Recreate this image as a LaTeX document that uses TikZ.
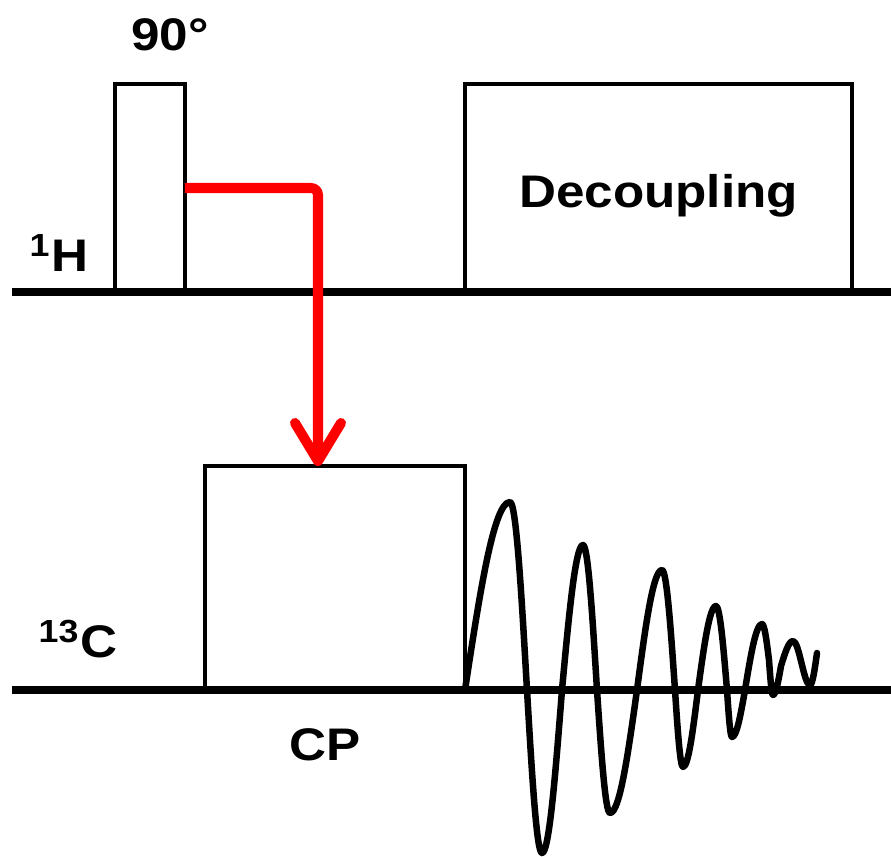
\documentclass[tikz,border=0pt]{standalone}
\usepackage{fontspec}
\setmainfont{Liberation Sans}[FakeStretch=1.12]
\usetikzlibrary{arrows.meta, positioning, calc}

\begin{document}
\begin{tikzpicture}[>={Straight Barb[length=3.8mm,width=4.6mm,round]},
  pulse/.style={draw, line width=1.3pt, inner sep=0pt, outer sep=0pt, anchor=south west},
  lab/.style={font=\fontsize{13}{15}\selectfont\bfseries},
  axisline/.style={line width=2.1pt},
  fid/.style={line width=1.85pt, line cap=round, line join=round}]
\useasboundingbox (0,-1.66) rectangle (8.91,6.90);
% 1H 通道
\draw[axisline] (0.12,3.98) -- (8.91,3.98);
\node[pulse, minimum width=0.70cm, minimum height=2.08cm] (p90) at (1.15,3.98) {};
\node[pulse, lab, text height=14pt, minimum width=3.87cm, minimum height=2.08cm] (dec) at (4.65,3.98) {Decoupling};
\node[lab] (h1) at (0.59,4.37) {\textsuperscript{1}H};
\node[lab] (deg) at (1.70,6.55) {90°};
% 13C 通道
\draw[axisline] (0.12,0) -- (8.91,0);
\node[pulse, minimum width=2.60cm, minimum height=2.24cm] (cp) at (2.05,0) {};
\node[lab] (c13) at (0.78,0.51) {\textsuperscript{13}C};
\node[lab] (cplab) at (3.25,-0.55) {CP};
% FID 信号
\draw[fid] (cp.south east) sin (5.10,1.88) cos (5.27,0) sin (5.42,-1.63) cos (5.62,0)
  sin (5.83,1.45) cos (5.97,0) sin (6.10,-1.23) cos (6.37,0)
  sin (6.62,1.20) cos (6.75,0) sin (6.83,-0.77) cos (6.98,0)
  sin (7.16,0.84) cos (7.27,0) sin (7.32,-0.47) cos (7.45,0)
  sin (7.62,0.66) cos (7.69,0.30) sin (7.73,-0.05) cos (7.81,0.24)
  sin (7.93,0.49) cos (8.015,0.27) sin (8.10,0.05) cos (8.17,0.37);
% 交叉极化转移
\draw[->, red, line width=2.85pt, rounded corners=2pt] (p90.east) -| ([xshift=-0.17cm]cp.north);
\end{tikzpicture}
\end{document}
